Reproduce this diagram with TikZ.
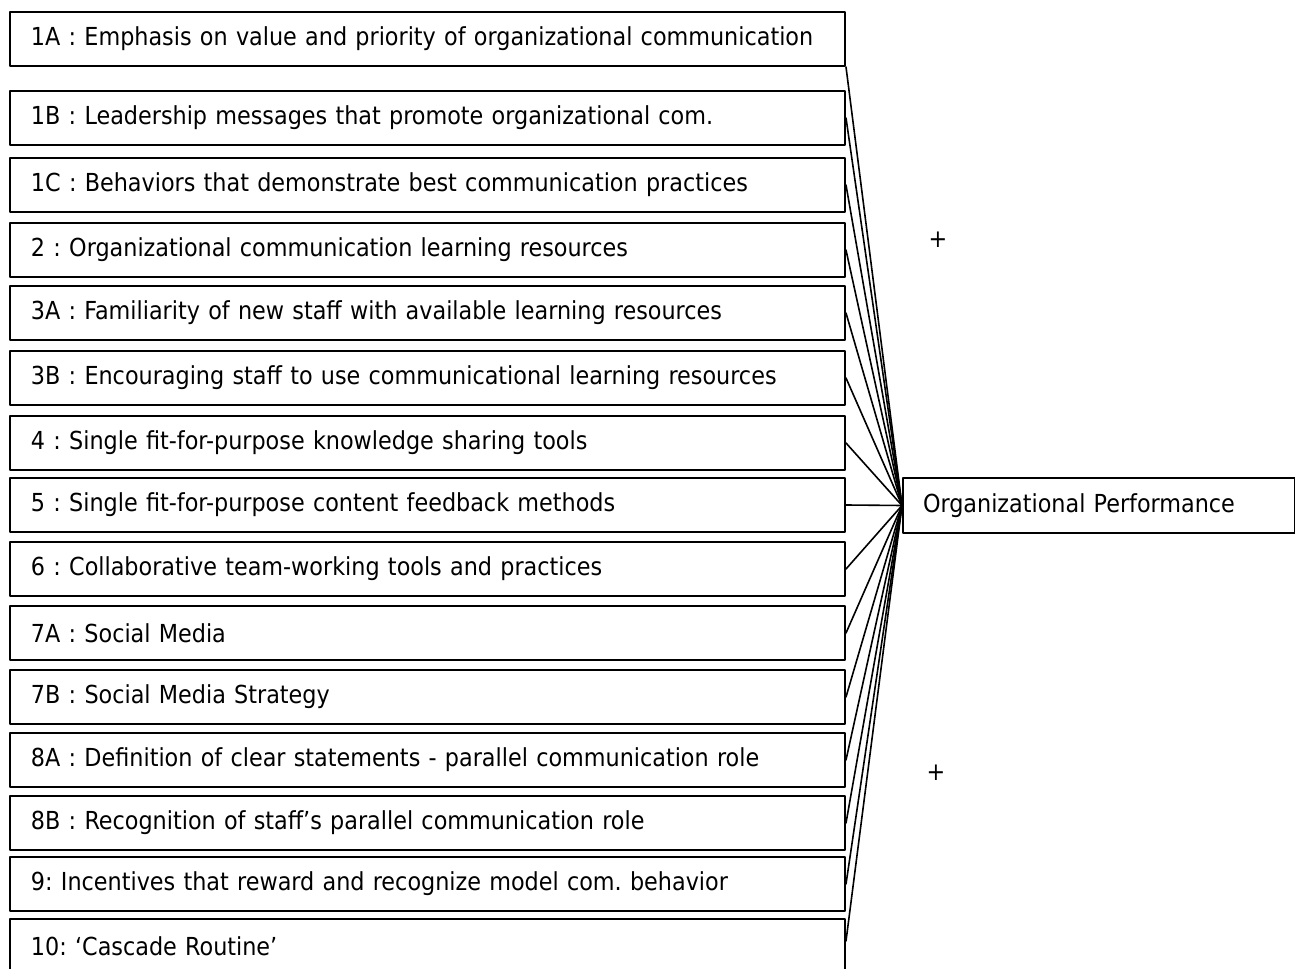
\documentclass[tikz,border=0pt]{standalone}
\usepackage{fontspec}
\setmainfont{DejaVu Sans Condensed}
\frenchspacing
\begin{document}
\begin{tikzpicture}[x=0.75pt, y=-0.75pt, line cap=round, line join=round,
	font=\fontsize{18.6}{22}\selectfont,
	yeuto/.style={draw, line width=1.5pt, anchor=north west, minimum height=40.5pt,
		inner xsep=15.75pt, text width=594.75pt, align=left},
	ketqua/.style={draw, line width=1.5pt, anchor=north west, minimum height=41.25pt,
		inner xsep=15pt, text width=264pt, align=left},
	noi/.style={line width=1.2pt}]
	
	\useasboundingbox (0,0) rectangle (1295,969);
	
	% Các ô yếu tố bên trái
	\node[yeuto] (n1a) at (9,11) {1A : Emphasis on value and priority of organizational communication};
	\node[yeuto] (n1b) at (9,90) {1B : Leadership messages that promote organizational com.};
	\node[yeuto] (n1c) at (9,157) {1C : Behaviors that demonstrate best communication practices};
	\node[yeuto] (n2) at (9,222) {2 : Organizational communication learning resources};
	\node[yeuto] (n3a) at (9,285) {3A : Familiarity of new staff with available learning resources};
	\node[yeuto] (n3b) at (9,350) {3B : Encouraging staff to use communicational learning resources};
	\node[yeuto] (n4) at (9,415) {4 : Single fit-for-purpose knowledge sharing tools};
	\node[yeuto] (n5) at (9,477) {5 : Single fit-for-purpose content feedback methods};
	\node[yeuto] (n6) at (9,541) {6 : Collaborative team-working tools and practices};
	\node[yeuto] (n7a) at (9,605) {7A : Social Media};
	\node[yeuto] (n7b) at (9,669) {7B : Social Media Strategy};
	\node[yeuto] (n8a) at (9,732) {8A : Definition of clear statements - parallel communication role};
	\node[yeuto] (n8b) at (9,795) {8B : Recognition of staff’s parallel communication role};
	\node[yeuto] (n9) at (9,856) {9: Incentives that reward and recognize model com. behavior};
	\node[yeuto] (n10) at (9,918) {10: ‘Cascade Routine’};
	
	% Ô kết quả
	\node[ketqua] (perf) at (902,477) {Organizational Performance};
	
	% Các đường nối
	\draw[noi] (n1a.south east) -- (perf.west);
	\draw[noi] (n1b.east) -- (perf.west);
	\draw[noi] (n1c.east) -- (perf.west);
	\draw[noi] (n2.east) -- (perf.west);
	\draw[noi] (n3a.east) -- (perf.west);
	\draw[noi] (n3b.east) -- (perf.west);
	\draw[noi] (n4.east) -- (perf.west);
	\draw[noi] (n5.east) -- (perf.west);
	\draw[noi] (n6.east) -- (perf.west);
	\draw[noi] (n7a.east) -- (perf.west);
	\draw[noi] (n7b.east) -- (perf.west);
	\draw[noi] (n8a.east) -- (perf.west);
	\draw[noi] (n8b.east) -- (perf.west);
	\draw[noi] (n9.east) -- (perf.west);
	\draw[noi] ([yshift=3.75pt]n10.east) -- (perf.west);
	
	% Dấu cộng
	\node (plus1) at (938,240) {+};
	\node (plus2) at (936,773) {+};
	
\end{tikzpicture}
\end{document}
